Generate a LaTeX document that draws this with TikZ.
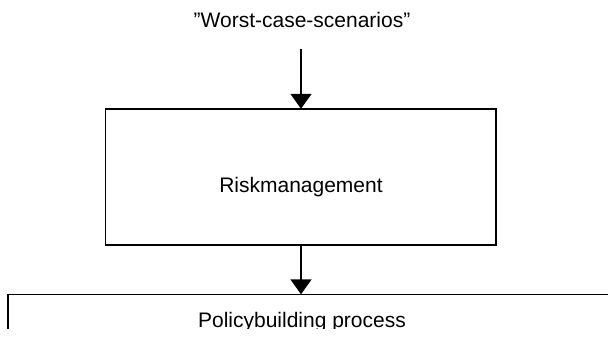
\documentclass[tikz,border=0pt]{standalone}
\usepackage{fontspec}
\setmainfont{Liberation Sans}
\usetikzlibrary{arrows.meta}
\begin{document}
\begin{tikzpicture}[x=0.75pt,y=-0.75pt,
  txt/.style={font=\fontsize{15.75pt}{18pt}\selectfont, anchor=base, inner sep=0pt},
  boxnode/.style={draw=black, line width=1.3pt, rectangle, inner sep=0pt},
  conn/.style={draw=black, line width=1.3pt, -{Triangle[length=11.25pt,width=15.75pt]}, shorten >=-0.5pt}
]
\useasboundingbox (0,0) rectangle (608,341);
\clip (0,0) rectangle (608,329);
\node[txt] (w) at (302,28) {”Worst-case-scenarios”};
\coordinate (wa) at (301,49);
\node[boxnode, minimum width=292.9pt, minimum height=102pt] (r) at (300.75,177) {};
\node[txt] (rt) at (301,193) {Riskmanagement};
\node[boxnode, minimum width=474pt, minimum height=64.1pt] (p) at (324,337.25) {};
\node[txt] (pt) at (302,328) {Policybuilding process};
\path[conn] (wa) -- (wa |- r.north);
\path[conn] (r.south -| wa) -- (wa |- p.north);
\end{tikzpicture}
\end{document}
